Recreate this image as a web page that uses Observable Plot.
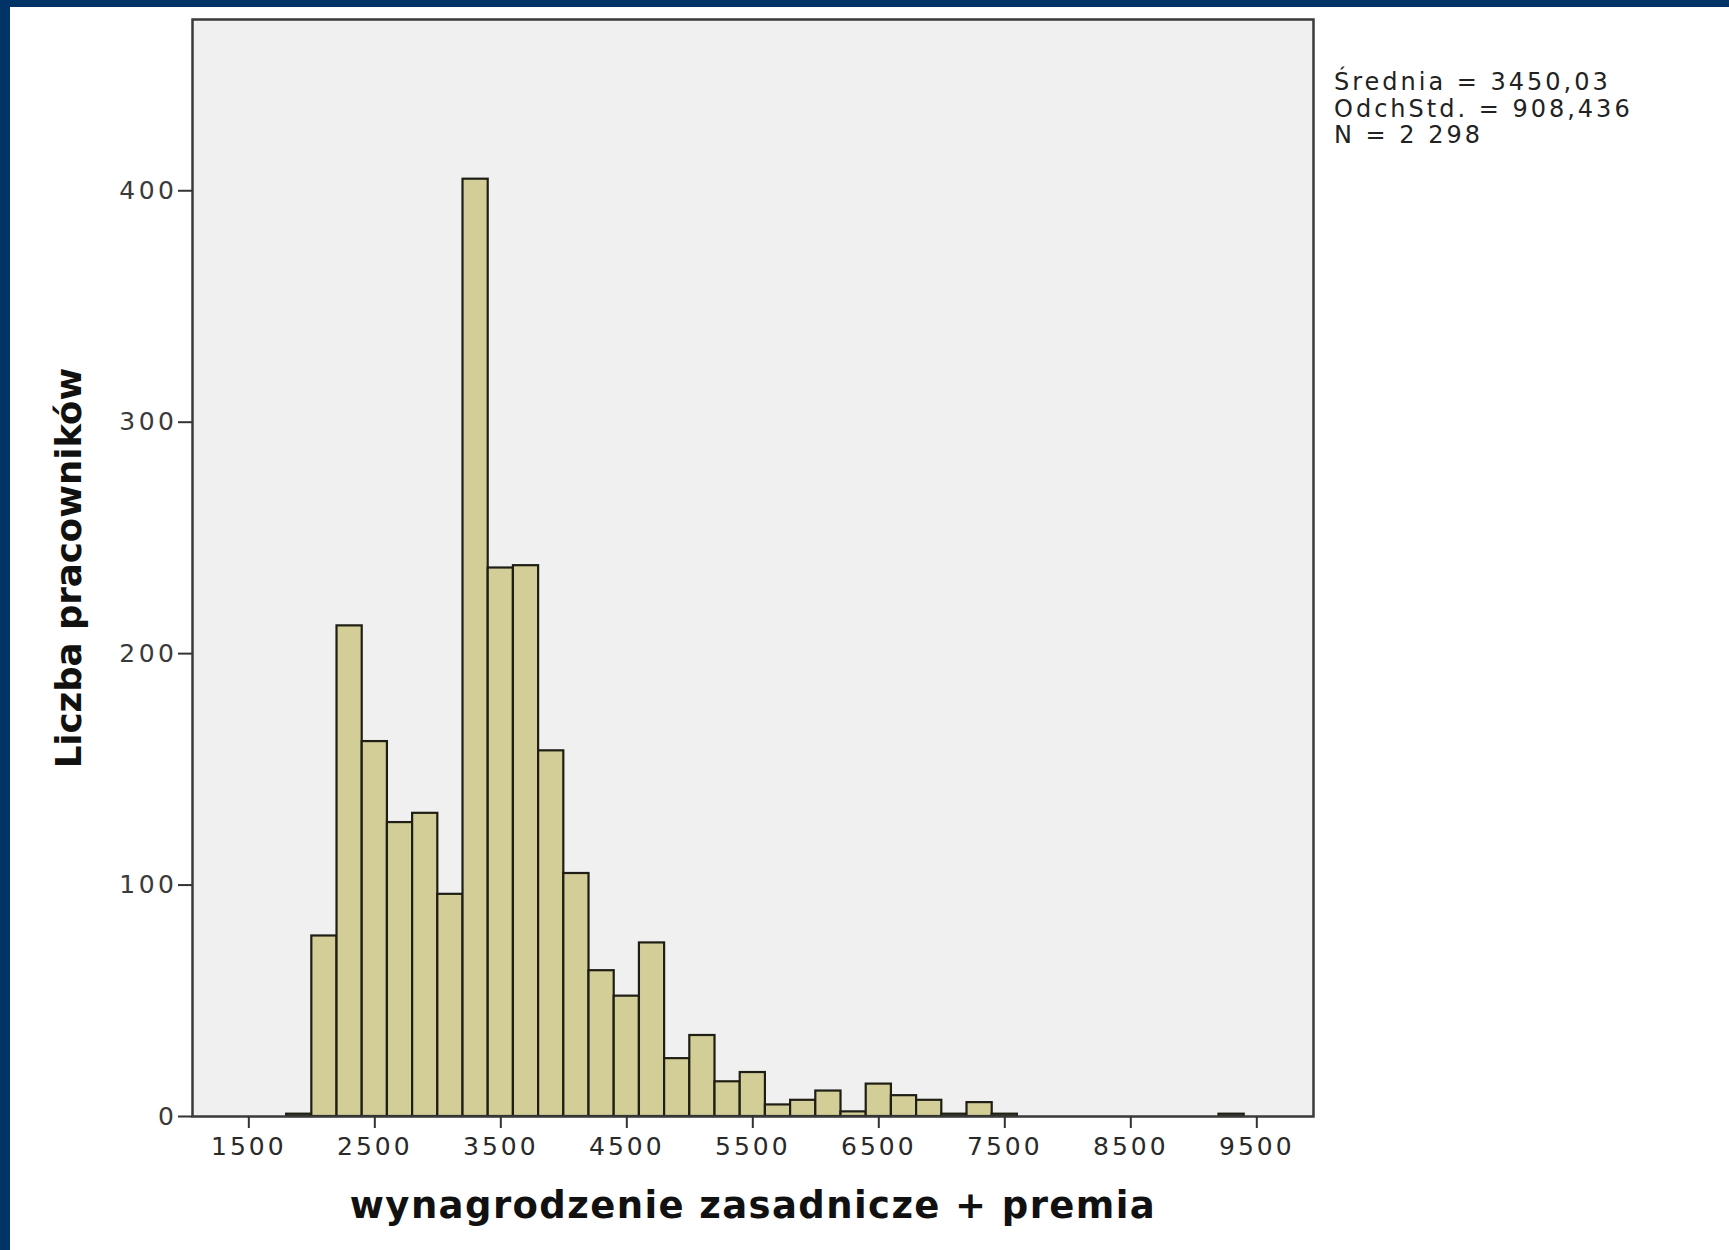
<!DOCTYPE html>
<html><head><meta charset="utf-8">
<script src="https://cdn.jsdelivr.net/npm/d3@7"></script>
<script src="https://cdn.jsdelivr.net/npm/@observablehq/plot@0.6"></script>
<style>
body{margin:0;background:#fff;}
#wrap{position:relative;width:1729px;height:1250px;background:#fff;overflow:hidden;}
.edge-top{position:absolute;left:0;top:0;width:1729px;height:7px;background:#003366;}
.edge-left{position:absolute;left:0;top:0;width:10px;height:1250px;background:#003366;}
#stats{position:absolute;left:1334px;top:69px;font-family:"DejaVu Sans";font-size:24px;line-height:26.5px;letter-spacing:3px;color:#222;white-space:pre;}
#chart svg{position:absolute;left:0;top:0;}
#chart g[aria-label="x-axis tick label"] text{letter-spacing:3px;}
#chart g[aria-label="y-axis tick label"] text{letter-spacing:3.5px;}
</style></head><body>
<div id="wrap"><div id="chart"></div><div class="edge-top"></div><div class="edge-left"></div><div id="stats"></div></div>
<script>
// Histogram bins (lower edge of each 200-wide bin) and counts
const binStart = [1800, 2000, 2200, 2400, 2600, 2800, 3000, 3200, 3400, 3600, 3800, 4000, 4200, 4400, 4600, 4800, 5000, 5200, 5400, 5600, 5800, 6000, 6200, 6400, 6600, 6800, 7000, 7200, 7400, 9200];
const counts   = [1, 78, 212, 162, 127, 131, 96, 405, 237, 238, 158, 105, 63, 52, 75, 25, 35, 15, 19, 5, 7, 11, 2, 14, 9, 7, 1, 6, 1, 1];
const binWidth = 200;
const xTicks = [1500, 2500, 3500, 4500, 5500, 6500, 7500, 8500, 9500];
const yTicks = [0, 100, 200, 300, 400];
const xLabel = "wynagrodzenie zasadnicze + premia";
const yLabel = "Liczba pracowników";
const statsLines = ["Średnia = 3450,03", "OdchStd. = 908,436", "N = 2 298"];

const data = binStart.map((s, i) => ({x1: s, x2: s + binWidth, y: counts[i]}));

const chart = Plot.plot({
  width: 1729, height: 1250,
  marginLeft: 192, marginRight: 416, marginTop: 19, marginBottom: 134,
  style: {fontFamily: "DejaVu Sans", fontSize: "25px", background: "transparent", color: "#333"},
  x: {domain: [1053, 9950]},
  y: {domain: [0, 474]},
  marks: [
    Plot.frame({fill: "#f0f0f0"}),
    Plot.rect(data, {x1: "x1", x2: "x2", y1: 0, y2: "y", fill: "#d3ce97", stroke: "#1e1e14", strokeWidth: 2.2}),
    Plot.frame({stroke: "#3a3a3a", strokeWidth: 2.5}),
    Plot.axisX({ticks: xTicks, tickFormat: d => String(d), tickSize: 12, tickPadding: 9, label: null, stroke: "#333", strokeWidth: 2, fill: "#2a2a2a"}),
    Plot.axisY({ticks: yTicks, tickFormat: d => String(d), tickSize: 14, tickPadding: 1, label: null, stroke: "#333", strokeWidth: 2, fill: "#3a3a3a"}),
    Plot.text([yLabel], {text: d => d, frameAnchor: "left", textAnchor: "middle", dx: -123, rotate: -90, fontWeight: "bold", fontSize: 35.5, fill: "#111"}),
    Plot.text([xLabel], {text: d => d, frameAnchor: "bottom", dy: 101, fontWeight: "bold", fontSize: 37, fill: "#111"})
  ]
});
d3.select(chart).selectAll("text").filter(function() { return this.textContent === xLabel; })
  .attr("letter-spacing", "1.4px");
document.getElementById("chart").appendChild(chart);
document.getElementById("stats").textContent = statsLines.join("\n");
</script>
</body></html>
